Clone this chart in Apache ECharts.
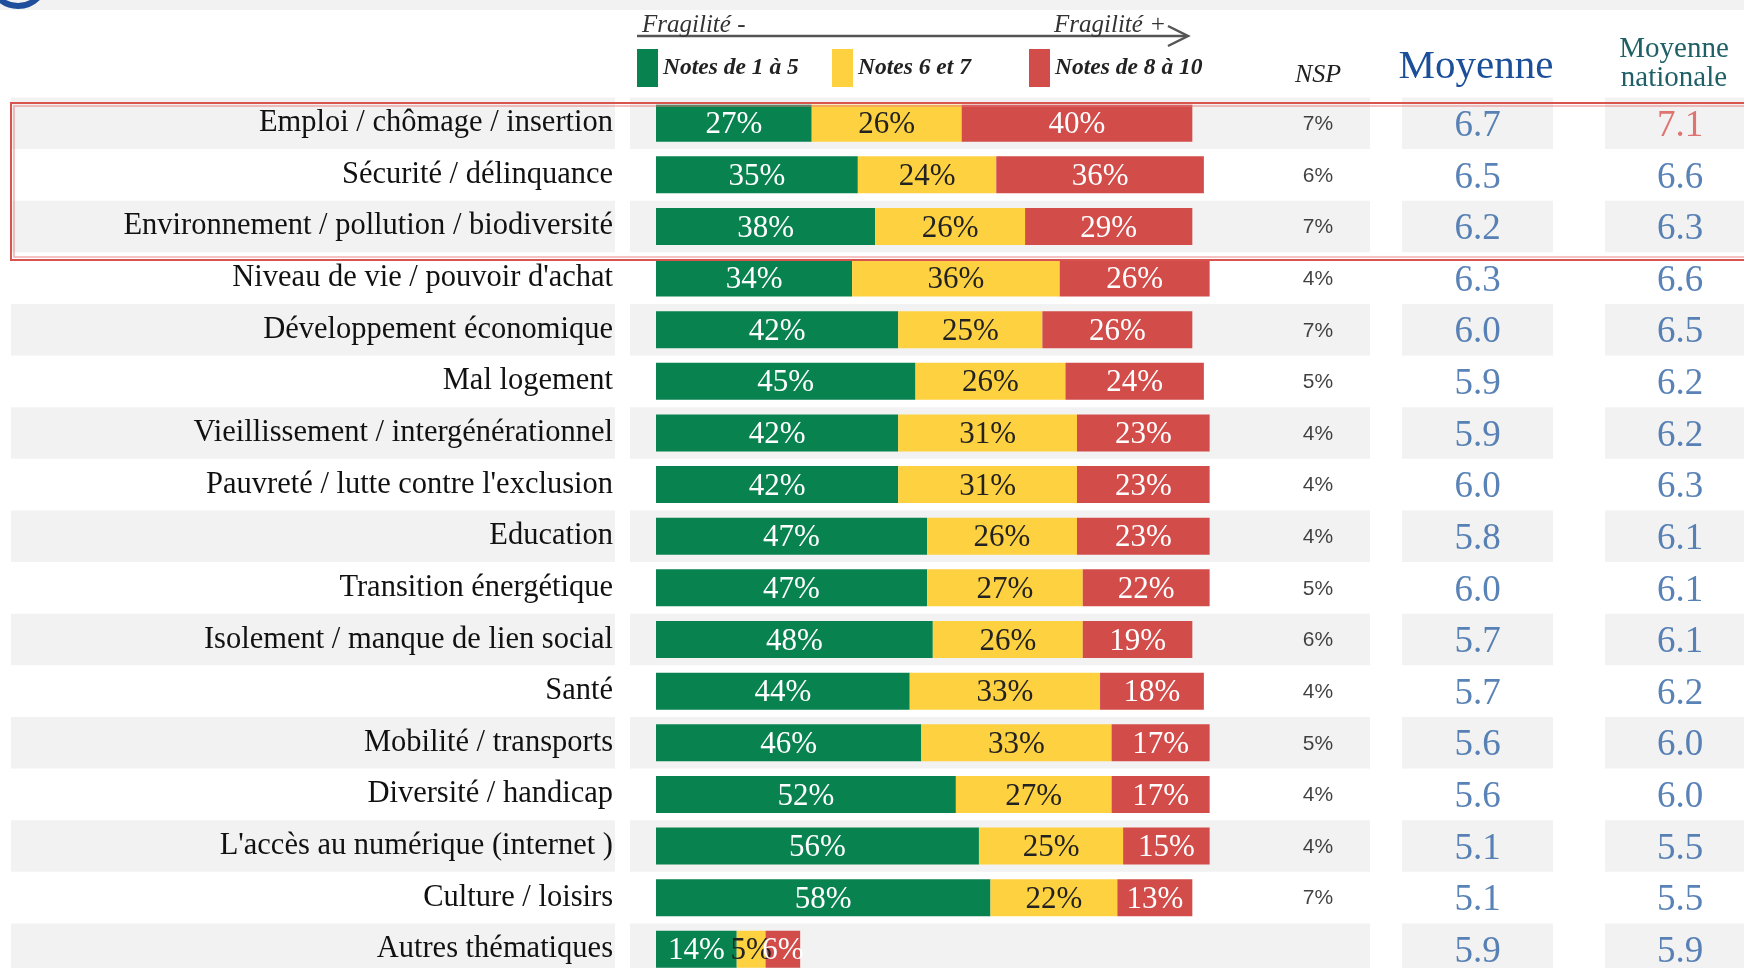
<!DOCTYPE html>
<html>
<head>
<meta charset="utf-8">
<script src="https://cdn.jsdelivr.net/npm/echarts@6/dist/echarts.min.js"></script>
<style>html,body{margin:0;padding:0;background:#fff}#c{width:1744px;height:968px}</style>
</head>
<body>
<div id="c"></div>
<script>
const categories = [
  "Emploi / chômage / insertion",
  "Sécurité / délinquance",
  "Environnement / pollution / biodiversité",
  "Niveau de vie / pouvoir d'achat",
  "Développement économique",
  "Mal logement",
  "Vieillissement / intergénérationnel",
  "Pauvreté / lutte contre l'exclusion",
  "Education",
  "Transition énergétique",
  "Isolement / manque de lien social",
  "Santé",
  "Mobilité / transports",
  "Diversité / handicap",
  "L'accès au numérique (internet )",
  "Culture / loisirs",
  "Autres thématiques"
];
const notes1to5 = [27,35,38,34,42,45,42,42,47,47,48,44,46,52,56,58,14];
const notes6to7 = [26,24,26,36,25,26,31,31,26,27,26,33,33,27,25,22,5];
const notes8to10 = [40,36,29,26,26,24,23,23,23,22,19,18,17,17,15,13,6];
const nsp = [7,6,7,4,7,5,4,4,4,5,6,4,5,4,4,7,null];
const moyenne = [6.7,6.5,6.2,6.3,6.0,5.9,5.9,6.0,5.8,6.0,5.7,5.7,5.6,5.6,5.1,5.1,5.9];
const moyenneNationale = [7.1,6.6,6.3,6.6,6.5,6.2,6.2,6.3,6.1,6.1,6.1,6.2,6.0,6.0,5.5,5.5,5.9];
const seriesNames = ["Notes de 1 à 5", "Notes 6 et 7", "Notes de 8 à 10"];

const COLORS = ['#088350', '#FED140', '#D24C4A'];
const SERIF = '"Liberation Serif", "DejaVu Serif", serif';
const BAND = ['#F2F2F2', 'rgba(255,255,255,0)'];
const ROWH = 51.63, TOP = 123.2 - ROWH / 2, H = ROWH * categories.length;

const chart = echarts.init(document.getElementById('c'), null, {renderer: 'canvas'});

function grid(left, width) { return {left: left, width: width, top: TOP, height: H, outerBoundsMode: 'none', containLabel: false}; }
function yCat(gi, band, labels) {
  return {
    type: 'category', gridIndex: gi, data: categories, inverse: true,
    axisLine: {show: false}, axisTick: {show: false},
    axisLabel: labels ? {show: true, margin: 43, fontFamily: SERIF, fontSize: 30.5, color: '#111', padding: [4, 0, 0, 0]} : {show: false},
    splitLine: {show: false},
    splitArea: band ? {show: true, areaStyle: {color: BAND}} : {show: false}
  };
}
function xVal(gi, min, max) {
  return {type: 'value', gridIndex: gi, min: min, max: max, show: false, splitLine: {show: false}};
}

const grids = [
  grid(11, 604),      // 0 label band
  grid(630, 740),     // 1 bar band
  grid(656, 576.7),   // 2 bars
  grid(1280, 76),     // 3 NSP
  grid(1402, 151),    // 4 Moyenne band
  grid(1605, 150)     // 5 nationale band
];
const xAxes = [xVal(0,0,1), xVal(1,0,1), xVal(2,0,100), xVal(3,0,1), xVal(4,0,1), xVal(5,0,1)];
const yAxes = [yCat(0,true,false), yCat(1,true,false), yCat(2,false,true), yCat(3,false,false), yCat(4,true,false), yCat(5,true,false)];

const barData = [notes1to5, notes6to7, notes8to10];
const barSeries = barData.map((arr, k) => ({
  name: seriesNames[k], type: 'bar', stack: 'notes', xAxisIndex: 2, yAxisIndex: 2,
  barWidth: 37, data: arr,
  itemStyle: {color: COLORS[k]},
  label: {show: true, position: 'inside', offset: [0, 2], formatter: '{c}%', fontFamily: SERIF, fontSize: 31,
          color: k === 1 ? '#222' : '#fff'},
  emphasis: {disabled: true}
}));

function textSeries(gi, arr, fmt, style, special) {
  return {
    type: 'scatter', xAxisIndex: gi, yAxisIndex: gi, symbolSize: 1, silent: true, clip: false,
    itemStyle: {color: 'rgba(0,0,0,0)'},
    data: arr.map((v, i) => {
      const d = {value: [0.5, i, v]};
      if (special && special[i]) d.label = special[i];
      return d;
    }).filter(d => d.value[2] !== null),
    label: Object.assign({show: true, position: 'inside', formatter: p => fmt(p.value[2])}, style)
  };
}

const option = {
  animation: false,
  backgroundColor: '#fff',
  grid: grids, xAxis: xAxes, yAxis: yAxes,
  legend: seriesNames.map((n, k) => ({
    data: [n], left: [637, 832, 1029][k], top: 49, icon: 'rect', itemWidth: 21, itemHeight: 38,
    itemGap: 0, selectedMode: false, padding: 0,
    textStyle: {fontFamily: SERIF, fontSize: 23.5, fontStyle: 'italic', fontWeight: 'bold', color: '#222',
                padding: [10, 0, 0, 0],
                textShadowColor: 'rgba(0,0,0,0.35)', textShadowOffsetX: 1, textShadowOffsetY: 1, textShadowBlur: 0}
  })),
  series: barSeries.concat([
    textSeries(3, nsp, v => v + '%', {fontFamily: '"Liberation Sans", Arial, sans-serif', fontSize: 21, color: '#111', offset: [0, 1]}),
    textSeries(4, moyenne, v => v.toFixed(1), {fontFamily: SERIF, fontSize: 37, color: '#2F63A5', offset: [0, 3]}),
    textSeries(5, moyenneNationale, v => v.toFixed(1), {fontFamily: SERIF, fontSize: 37, color: '#2F63A5', offset: [0, 3]},
               {0: {color: '#D9534F'}})
  ]),
  graphic: [
    {type: 'rect', shape: {x: 0, y: 0, width: 1744, height: 10}, style: {fill: '#F2F2F2'}, z: 0},
    {type: 'circle', shape: {cx: 18, cy: -22, r: 28}, style: {fill: 'none', stroke: '#1F4E9C', lineWidth: 6}, z: 1},
    {type: 'line', shape: {x1: 637, y1: 36, x2: 1187, y2: 36}, style: {stroke: '#555', lineWidth: 2.5}},
    {type: 'polyline', shape: {points: [[1168, 26], [1188, 36], [1168, 46]]}, style: {stroke: '#555', lineWidth: 2.5, fill: 'none'}},
    {type: 'text', x: 642, y: 25, style: {text: 'Fragilité -', font: 'italic 25px ' + SERIF, fill: '#333', textVerticalAlign: 'middle'}},
    {type: 'text', x: 1054, y: 25, style: {text: 'Fragilité +', font: 'italic 25px ' + SERIF, fill: '#333', textVerticalAlign: 'middle'}},
    {type: 'text', x: 1318, y: 75, style: {text: 'NSP', font: 'italic 26px ' + SERIF, fill: '#222', textAlign: 'center', textVerticalAlign: 'middle'}},
    {type: 'text', x: 1476, y: 67, style: {text: 'Moyenne', font: '41px ' + SERIF, fill: '#1B4F9A', textAlign: 'center', textVerticalAlign: 'middle'}},
    {type: 'text', x: 1674, y: 64, style: {text: 'Moyenne\nnationale', font: '29px ' + SERIF, lineHeight: 29, fill: '#1F5F66', textAlign: 'center', textVerticalAlign: 'middle'}},
    {type: 'rect', shape: {x: 11, y: 103, width: 1745, height: 157}, style: {fill: 'none', stroke: '#D9534F', lineWidth: 2}, z: 100},
    {type: 'rect', shape: {x: 14, y: 106, width: 1740, height: 151}, style: {fill: 'none', stroke: 'rgba(230,120,120,0.6)', lineWidth: 1.5}, z: 100}
  ]
};
chart.setOption(option);
</script>
</body>
</html>
